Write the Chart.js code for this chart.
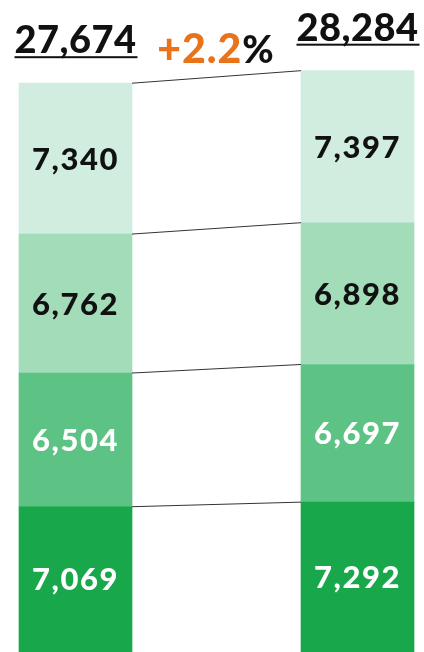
<!DOCTYPE html>
<html>
<head>
<meta charset="utf-8">
<script src="https://cdn.jsdelivr.net/npm/chart.js@4"></script>
<style>
html,body{margin:0;padding:0;background:#fff;}
#wrap{position:relative;width:424px;height:652px;}
</style>
</head>
<body>
<div id="wrap"><canvas id="c" width="424" height="652"></canvas></div>
<script>
const categories = ["Before", "After"];
const seg1 = [7069, 7292];   // bottom
const seg2 = [6504, 6697];
const seg3 = [6762, 6898];
const seg4 = [7340, 7397];   // top
const totals = ["27,674", "28,284"];
const changeLabel = "+2.2";
const changeUnit = "%";

const colors = ["#18a74a", "#5dc384", "#a3dcb9", "#d1ede0"];
const textColors = ["#ffffff", "#ffffff", "#111111", "#111111"];
const series = [seg1, seg2, seg3, seg4];

const fmt = v => v.toLocaleString("en-US");

const overlay = {
  id: "overlay",
  afterDatasetsDraw(chart) {
    const ctx = chart.ctx;
    const metas = series.map((_, i) => chart.getDatasetMeta(i));
    ctx.save();
    ctx.strokeStyle = "#333333";
    ctx.lineWidth = 1;
    metas.forEach(m => {
      const a = m.data[0], b = m.data[1];
      ctx.beginPath();
      ctx.moveTo(a.x + a.width / 2, a.y);
      ctx.lineTo(b.x - b.width / 2, b.y);
      ctx.stroke();
    });
    ctx.restore();
    ctx.save();
    ctx.font = "900 31px Lato";
    ctx.letterSpacing = "1.5px";
    ctx.textAlign = "center";
    ctx.textBaseline = "middle";
    metas.forEach((m, i) => {
      m.data.forEach((el, j) => {
        const cy = (el.y + Math.min(el.base, 652)) / 2;
        ctx.fillStyle = textColors[i];
        ctx.fillText(fmt(series[i][j]), el.x, cy + 1);
      });
    });
    ctx.restore();
    ctx.save();
    ctx.font = "900 38px Lato";
    ctx.letterSpacing = "0.5px";
    ctx.textAlign = "center";
    ctx.textBaseline = "alphabetic";
    ctx.fillStyle = "#111111";
    const topMeta = metas[metas.length - 1];
    topMeta.data.forEach((el, j) => {
      const baseline = el.y - 30;
      ctx.fillText(totals[j], el.x, baseline);
      ctx.fillRect(el.x - 61, baseline + 3, 123, 2);
    });
    const a = topMeta.data[0], b = topMeta.data[1];
    const cx = (a.x + b.x) / 2 - 0.5;
    ctx.font = "900 41px Lato";
    ctx.letterSpacing = "1px";
    const w1 = ctx.measureText(changeLabel).width;
    ctx.font = "900 38px Lato";
    const w2 = ctx.measureText(changeUnit).width;
    const startX = cx - (w1 + w2) / 2;
    ctx.textAlign = "left";
    ctx.font = "900 41px Lato";
    ctx.fillStyle = "#e8731a";
    ctx.fillText(changeLabel, startX, 63);
    ctx.font = "900 38px Lato";
    ctx.fillStyle = "#111111";
    ctx.fillText(changeUnit, startX + w1, 63);
    ctx.restore();
  }
};

new Chart(document.getElementById("c"), {
  type: "bar",
  data: {
    labels: categories,
    datasets: series.map((d, i) => ({
      data: d,
      backgroundColor: colors[i],
      borderWidth: 0,
      barThickness: 113,
      clip: false
    }))
  },
  options: {
    responsive: false,
    animation: false,
    layout: { padding: { left: 75.5, right: 66.5, top: 0, bottom: -3 } },
    plugins: { legend: { display: false }, tooltip: { enabled: false } },
    scales: {
      x: { stacked: true, display: false, offset: false, grid: { offset: false } },
      y: { stacked: true, display: false, min: 0, max: 31723 }
    }
  },
  plugins: [overlay]
});
</script>
</body>
</html>
